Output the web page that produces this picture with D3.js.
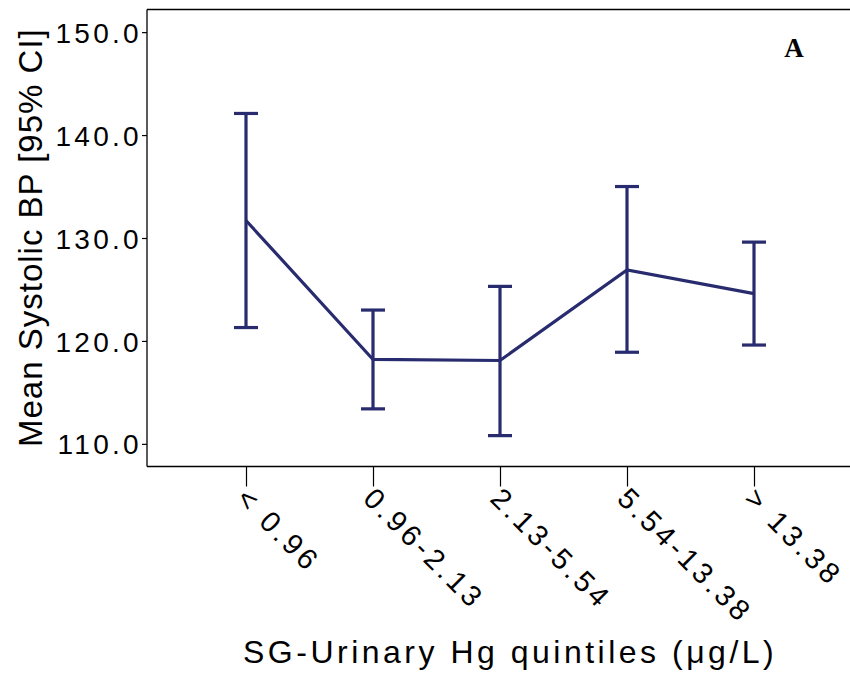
<!DOCTYPE html>
<html>
<head>
<meta charset="utf-8">
<script src="https://cdn.jsdelivr.net/npm/d3@7"></script>
<style>
  html, body { margin: 0; padding: 0; background: #fff; }
  svg { display: block; }
  text { font-family: "Liberation Sans", Arial, Helvetica, sans-serif; fill: #000; }
</style>
</head>
<body>
<div id="chart"></div>
<script>
// ---- data ----
const categories = ["< 0.96", "0.96-2.13", "2.13-5.54", "5.54-13.38", "> 13.38"];
const meanValues = [131.7, 118.2, 118.1, 126.9, 124.6];
const lowerCI    = [121.3, 113.4, 110.8, 118.9, 119.6];
const upperCI    = [142.1, 123.0, 125.3, 135.0, 129.6];
const yTickValues = [110, 120, 130, 140, 150];
const yDomain = [107.8, 152.2];
const xTitle = "SG-Urinary Hg quintiles (\u03BCg/L)";
const yTitle = "Mean Systolic BP [95% CI]";
const panelLabel = "A";

// ---- layout ----
const W = 850, H = 677;
const plotLeft = 147, plotTop = 9.5, plotBottom = 466.5, plotRight = 850;
const color = "#282b6e";

const svg = d3.select("#chart").append("svg").attr("width", W).attr("height", H);

const y = d3.scaleLinear().domain(yDomain).range([plotBottom, plotTop]);
const x = d3.scalePoint().domain(categories).range([246, 754]);

const data = categories.map((c, i) => ({ c, m: meanValues[i], lo: lowerCI[i], hi: upperCI[i] }));

// top border
svg.append("line").attr("x1", plotLeft).attr("x2", plotRight).attr("y1", plotTop).attr("y2", plotTop)
  .attr("stroke", "#000").attr("stroke-width", 1.3);

// y axis
const yAxis = d3.axisLeft(y).tickValues(yTickValues).tickSize(5).tickSizeOuter(0).tickFormat(d3.format(".1f"));
const gy = svg.append("g").attr("transform", `translate(${plotLeft},0)`).call(yAxis);
gy.select(".domain").attr("stroke", "#000").attr("stroke-width", 1.3)
  .attr("d", `M0,${plotTop}V${plotBottom}`);
gy.selectAll(".tick line").attr("stroke", "#000").attr("stroke-width", 1.2);
gy.selectAll(".tick text")
  .attr("x", -5)
  .attr("dy", "0.36em")
  .style("font-family", "'Liberation Sans', Arial, sans-serif")
  .style("font-size", "28px")
  .style("letter-spacing", "3.3px")
  .attr("fill", "#000");

// x axis
const xAxis = d3.axisBottom(x).tickSize(20).tickSizeOuter(0);
const gx = svg.append("g").attr("transform", `translate(0,${plotBottom})`).call(xAxis);
gx.select(".domain").attr("stroke", "#000").attr("stroke-width", 1.3)
  .attr("d", `M${plotLeft},0H${plotRight}`);
gx.selectAll(".tick line").attr("stroke", "#000").attr("stroke-width", 1.2);
gx.selectAll(".tick text")
  .attr("x", 0).attr("y", 0)
  .attr("text-anchor", "start")
  .attr("transform", "translate(3,19) rotate(45)")
  .attr("dy", "0.72em")
  .style("font-family", "'Liberation Sans', Arial, sans-serif")
  .style("font-size", "29px")
  .style("letter-spacing", "3.8px")
  .attr("fill", "#000");

// line through means
const line = d3.line().x(d => x(d.c)).y(d => y(d.m));
svg.append("path").datum(data).attr("d", line)
  .attr("fill", "none").attr("stroke", color).attr("stroke-width", 3.2).attr("stroke-linejoin", "miter");

// error bars
const capHalf = 12;
const eb = svg.append("g");
eb.selectAll("line.v").data(data).join("line").attr("class", "v")
  .attr("x1", d => x(d.c)).attr("x2", d => x(d.c))
  .attr("y1", d => y(d.lo)).attr("y2", d => y(d.hi))
  .attr("stroke", color).attr("stroke-width", 3.2);
eb.selectAll("line.hi").data(data).join("line").attr("class", "hi")
  .attr("x1", d => x(d.c) - capHalf).attr("x2", d => x(d.c) + capHalf)
  .attr("y1", d => y(d.hi)).attr("y2", d => y(d.hi))
  .attr("stroke", color).attr("stroke-width", 3.2);
eb.selectAll("line.lo").data(data).join("line").attr("class", "lo")
  .attr("x1", d => x(d.c) - capHalf).attr("x2", d => x(d.c) + capHalf)
  .attr("y1", d => y(d.lo)).attr("y2", d => y(d.lo))
  .attr("stroke", color).attr("stroke-width", 3.2);

// axis titles
svg.append("text")
  .attr("x", 243).attr("y", 663)
  .attr("text-anchor", "start")
  .style("font-size", "32px")
  .style("letter-spacing", "3.5px")
  .text(xTitle);

svg.append("text")
  .attr("transform", "translate(42,447) rotate(-90)")
  .attr("text-anchor", "start")
  .style("font-size", "33px")
  .style("letter-spacing", "1px")
  .text(yTitle);

// panel label
svg.append("text")
  .attr("x", 794).attr("y", 57)
  .attr("text-anchor", "middle")
  .style("font-family", "'Liberation Serif', 'Times New Roman', serif")
  .style("font-weight", "bold")
  .style("font-size", "27px")
  .text(panelLabel);
</script>
</body>
</html>
